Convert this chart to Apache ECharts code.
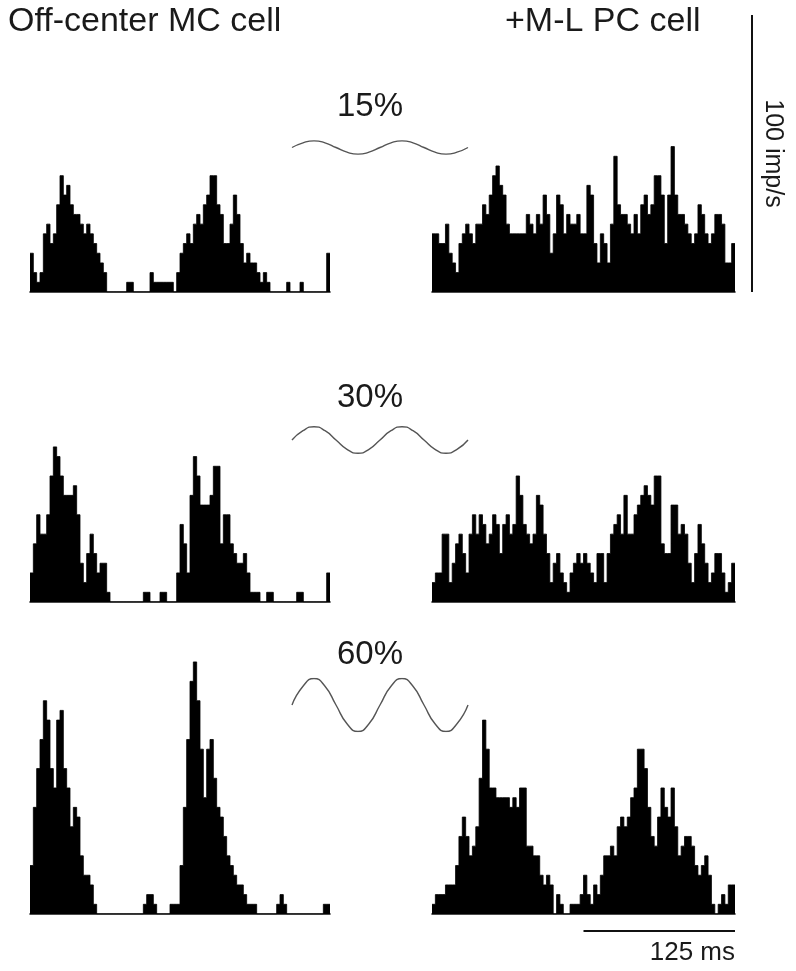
<!DOCTYPE html>
<html><head><meta charset="utf-8">
<script src="https://cdn.jsdelivr.net/npm/echarts@6/dist/echarts.min.js"></script>
<style>html,body{margin:0;padding:0;background:#fff}#c{width:796px;height:971px}</style>
</head><body><div id="c"></div><script>
// Spike counts per 2.78 ms bin (90 bins = 250 ms); 1 count = 3.5 imp/s
const IMPS_PER_SPIKE = 3.5;
const NBINS = 90;

const mc15 = [4,2,1,2,6,7,5,6,9,12,10,11,9,8,8,7,6,7,6,5,4,3,2,0,
  0,0,0,0,0,1,1,0,0,0,0,0,2,1,1,1,1,1,1,0,
  2,4,5,6,5,7,8,7,9,10,12,12,9,8,5,5,7,10,8,5,3,4,3,3,2,1,2,1,
  0,0,0,0,0,1,0,0,0,1,0,0,0,0,0,0,0,4];
const pc15 = [6,6,5,5,7,4,3,2,5,6,
  7,6,5,7,7,9,8,10,12,13,
  11,10,7,6,6,6,6,6,8,7,
  6,8,7,10,8,4,6,10,9,6,
  8,7,7,8,6,6,11,10,5,3,
  6,5,3,7,14,9,8,8,7,6,
  8,6,9,10,8,9,12,12,10,5,
  10,15,10,8,8,7,6,5,6,9,
  8,6,5,6,8,8,7,3,3,5];
const mc30 = [3,6,9,7,7,9,13,16,15,13,
  11,11,11,12,9,4,2,5,7,5,
  3,4,4,1,
  0,0,0,0,0,0,0,0,0,0,
  1,1,0,0,0,1,1,0,0,0,
  3,8,6,3,11,15,13,10,10,10,
  11,14,14,6,9,9,6,5,4,4,
  5,3,1,1,1,
  0,0,1,1,0,0,0,0,0,0,0,1,1,0,0,0,0,0,0,0,3];
const pc30 = [2,3,3,7,7,2,4,6,7,5,
  3,7,9,7,9,8,6,7,9,8,
  5,8,9,7,8,13,11,8,7,6,
  7,11,10,7,5,2,4,5,3,2,
  1,3,4,5,4,5,4,3,2,5,
  5,2,5,7,8,9,7,11,7,7,
  9,10,11,12,11,10,13,13,6,5,
  5,10,10,7,8,7,4,2,5,8,
  6,4,2,3,5,5,3,1,2,4];
const mc60 = [5,11,15,18,22,20,15,13,20,21,
  15,13,9,11,10,6,4,4,3,1,
  0,0,0,0,0,0,0,0,0,0,0,0,0,0,
  1,2,2,1,0,0,0,0,
  1,1,1,5,11,18,24,26,
  22,17,12,17,18,14,11,10,8,6,
  5,4,3,3,2,1,1,1,
  0,0,0,0,0,0,1,2,1,
  0,0,0,0,0,0,0,0,0,0,0,1,1];
const pc60 = [1,2,2,2,3,3,3,5,8,10,
  8,6,7,9,14,20,17,13,13,12,
  12,12,12,11,12,11,13,13,7,7,
  6,6,4,3,4,3,0,2,1,0,
  0,1,1,1,2,4,2,1,3,2,
  4,6,6,7,6,9,10,9,10,12,
  13,17,17,15,11,8,7,10,13,11,
  10,13,9,6,7,8,8,7,5,4,
  5,6,4,1,0,1,2,1,3,3];

// Stimulus contrast (%) sampled every 1/8 cycle, 2 cycles
const stimPhase = Array.from({length: 17}, (_, i) => i);
const stim15 = [0,10.6,15,10.6,0,-10.6,-15,-10.6,0,10.6,15,10.6,0,-10.6,-15,-10.6,0];
const stim30 = [0,21.2,30,21.2,0,-21.2,-30,-21.2,0,21.2,30,21.2,0,-21.2,-30,-21.2,0];
const stim60 = [0,42.4,60,42.4,0,-42.4,-60,-42.4,0,42.4,60,42.4,0,-42.4,-60,-42.4,0];

const rowLabels = ['15%', '30%', '60%'];
const cellLabels = ['Off-center MC cell', '+M-L PC cell'];
const scaleY = '100 imp/s', scaleX = '125 ms';

const FONT = '"Liberation Sans", Arial, Helvetica, sans-serif';
const panels = [mc15, pc15, mc30, pc30, mc60, pc60];
const baselines = [292, 602, 914];
const H = 277;
const cols = [{left: 30, width: 300}, {left: 432, width: 303}];

const grids = [], xAxes = [], yAxes = [], series = [];
panels.forEach((d, k) => {
  const r = Math.floor(k / 2), c = k % 2;
  grids.push({left: cols[c].left, width: cols[c].width, top: baselines[r] - H, height: H});
  xAxes.push({type: 'value', gridIndex: k, min: 0, max: NBINS,
    axisLine: {show: true, onZero: true, lineStyle: {color: '#111', width: 1.6}},
    axisTick: {show: false}, axisLabel: {show: false}, splitLine: {show: false}});
  yAxes.push({type: 'value', gridIndex: k, min: 0, max: 100, show: false, splitLine: {show: false}});
  const pts = d.map((v, i) => [i, v * IMPS_PER_SPIKE]);
  pts.push([NBINS, d[d.length - 1] * IMPS_PER_SPIKE]);
  series.push({type: 'line', xAxisIndex: k, yAxisIndex: k, data: pts, step: 'end',
    symbol: 'none', silent: true, z: 1,
    lineStyle: {color: '#000', width: 0.8},
    areaStyle: {color: '#000', opacity: 1, origin: 'start'}});
});
const stims = [stim15, stim30, stim60];
const stimCenters = [147.5, 440, 705];
stims.forEach((s, r) => {
  const k = grids.length;
  grids.push({left: 292, width: 176, top: stimCenters[r] - 26.5, height: 53});
  xAxes.push({type: 'category', data: stimPhase, gridIndex: k, boundaryGap: false, show: false});
  yAxes.push({type: 'value', gridIndex: k, min: -60, max: 60, show: false, splitLine: {show: false}});
  series.push({type: 'line', xAxisIndex: k, yAxisIndex: k, data: s, smooth: 0.55, symbol: 'none', silent: true,
    lineStyle: {color: '#555', width: 1.4}});
});

const txt = (text, x, y, size, align, extra) => Object.assign({type: 'text', x, y, silent: true,
  style: {text, font: size + 'px ' + FONT, fill: '#1a1a1a', align, verticalAlign: 'middle'}}, extra || {});

const chart = echarts.init(document.getElementById('c'), null, {renderer: 'canvas'});
chart.setOption({
  animation: false, backgroundColor: '#fff',
  grid: grids, xAxis: xAxes, yAxis: yAxes, series
});

// scale bars from axis scales
const yB = chart.convertToPixel({yAxisIndex: 1}, 0);
const yT = chart.convertToPixel({yAxisIndex: 1}, 100);
const xS = chart.convertToPixel({xAxisIndex: 5}, NBINS / 2);
const xE = chart.convertToPixel({xAxisIndex: 5}, NBINS);
const vx = 752, hy = baselines[2] + 17;
chart.setOption({graphic: [
  txt(cellLabels[0], 8, 22, 34, 'left'),
  txt(cellLabels[1], 505, 22, 34, 'left'),
  txt(rowLabels[0], 370, 107, 33, 'center'),
  txt(rowLabels[1], 370, 398, 33, 'center'),
  txt(rowLabels[2], 370, 655, 33, 'center'),
  {type: 'line', silent: true, shape: {x1: vx, y1: yT, x2: vx, y2: yB}, style: {stroke: '#111', lineWidth: 2}},
  txt(scaleY, vx + 21, (yT + yB) / 2, 25, 'center', {rotation: -Math.PI / 2}),
  {type: 'line', silent: true, shape: {x1: xS, y1: hy, x2: xE, y2: hy}, style: {stroke: '#111', lineWidth: 2.2}},
  txt(scaleX, xE, hy + 22, 26, 'right')
]});
</script></body></html>
